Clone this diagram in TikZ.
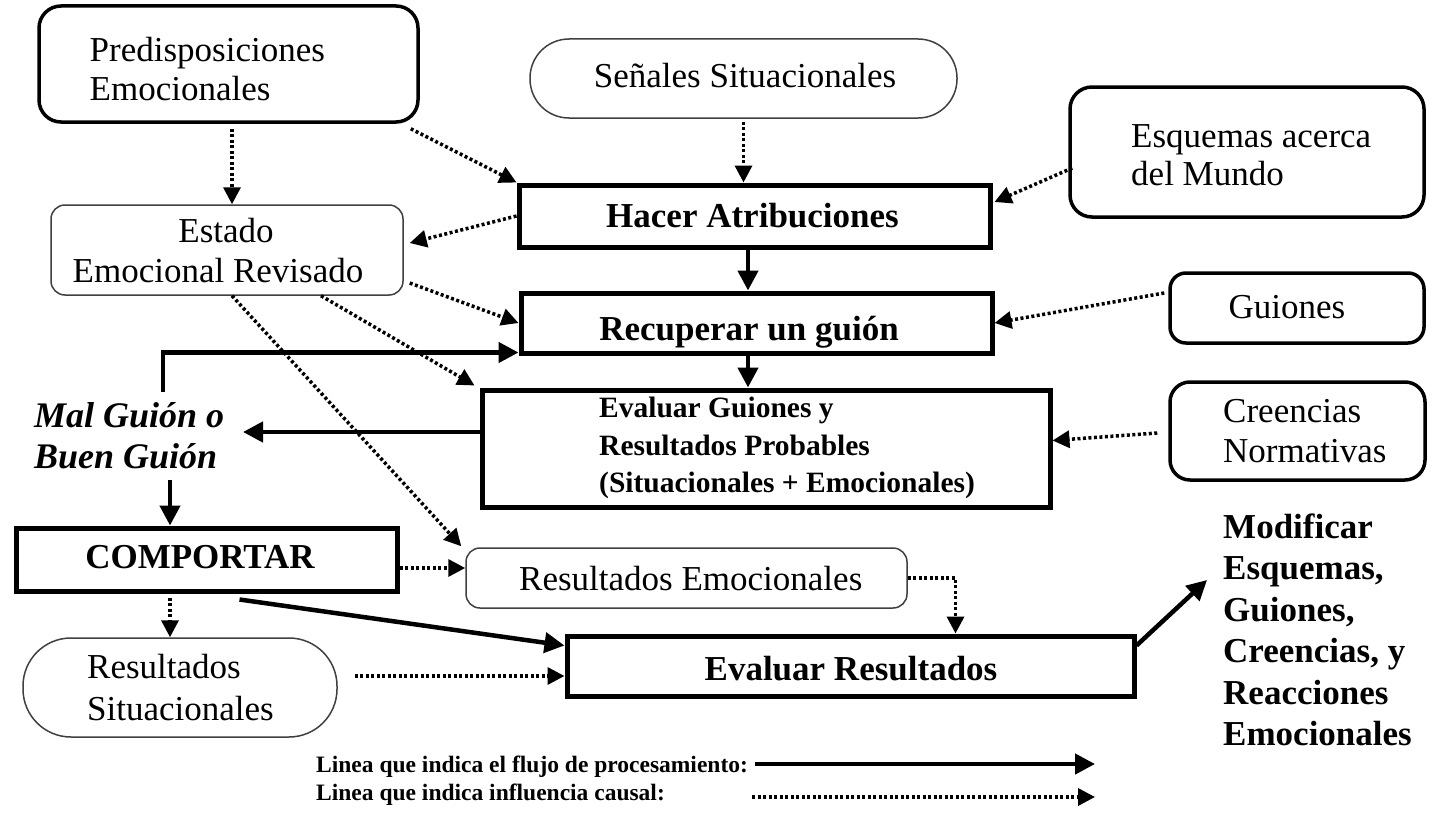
\documentclass[tikz,border=0pt]{standalone}
\usepackage{fontspec}
\setmainfont{Liberation Serif}
\usetikzlibrary{arrows.meta,calc}
\begin{document}
\begin{tikzpicture}[x=1pt,y=-1pt,
  thickbox/.style={draw, line width=5pt, inner sep=0pt},
  rbox/.style={draw, line width=3.5pt, rounded corners=22pt, inner sep=0pt},
  thinbox/.style={draw=black!75, line width=1.5pt, rounded corners=14pt, inner sep=0pt},
  pill/.style={draw=black!75, line width=1.5pt, inner sep=0pt},
  txt/.style={inner sep=0pt, font=\fontsize{35}{40}\selectfont},
  btxt/.style={inner sep=0pt, font=\fontsize{35}{40}\selectfont\bfseries},
  gtxt/.style={inner sep=0pt, font=\fontsize{29.5}{36}\selectfont\bfseries},
  itxt/.style={inner sep=0pt, font=\fontsize{36}{40}\selectfont\bfseries\itshape},
  ltxt/.style={inner sep=0pt, font=\fontsize{23.5}{26}\selectfont\bfseries},
  flow/.style={line width=4.5pt, -{Triangle[length=20pt,width=20pt]}},
  causal/.style={line width=3.5pt, dash pattern=on 3pt off 2.5pt, -{Triangle[length=17pt,width=17pt]}},
]
\fill[white] (0,0) rectangle (1437,816);
\useasboundingbox (0,0) rectangle (1437,816);

% boxes
\node[rbox, minimum width=379pt, minimum height=116pt] (pred) at (228.5,64) {};
\node[pill, rounded corners=39pt, minimum width=427pt, minimum height=79pt] (senal) at (743.5,78.5) {};
\node[rbox, minimum width=354pt, minimum height=130pt] (esq) at (1247,152) {};
\node[thickbox, minimum width=471pt, minimum height=62pt] (hacer) at (754.5,216) {};
\node[thinbox, minimum width=352pt, minimum height=90pt] (estado) at (227,250) {};
\node[thickbox, minimum width=471pt, minimum height=60pt] (recup) at (756.5,323) {};
\node[rbox, rounded corners=16pt, minimum width=254pt, minimum height=70pt] (guion) at (1297,308) {};
\node[thickbox, minimum width=568pt, minimum height=117pt] (evalg) at (766,448.5) {};
\node[rbox, rounded corners=20pt, minimum width=255pt, minimum height=98pt] (creen) at (1297.5,431) {};
\node[thickbox, minimum width=381pt, minimum height=63pt] (comp) at (206.5,559.5) {};
\node[thinbox, minimum width=441pt, minimum height=60pt] (resemo) at (686.5,578) {};
\node[pill, rounded corners=48pt, minimum width=314pt, minimum height=99pt] (ressit) at (180,687.5) {};
\node[thickbox, minimum width=567pt, minimum height=60pt] (evalr) at (850.5,666) {};

% texts
\node[txt, anchor=base west] (predA) at (89.5,62) {Predisposiciones};
\node[txt, anchor=base west] (predB) at (89.5,100) {Emocionales};
\node[txt, anchor=base] (senalT) at (745,88) {Señales Situacionales};
\node[txt, anchor=base west] (esqA) at (1131,147) {Esquemas acerca};
\node[txt, anchor=base west] (esqB) at (1131,185) {del Mundo};
\node[btxt, anchor=base] (hacerT) at (752.5,227) {Hacer Atribuciones};
\node[txt, anchor=base] (estadoA) at (226,242) {Estado};
\node[txt, anchor=base] (estadoB) at (218,282) {Emocional Revisado};
\node[btxt, anchor=base] (recupT) at (749,340) {Recuperar un guión};
\node[txt, anchor=base] (guionT) at (1287,318) {Guiones};
\node[gtxt, anchor=base west] (evalgA) at (599,417) {Evaluar Guiones y};
\node[gtxt, anchor=base west] (evalgB) at (599,455) {Resultados Probables};
\node[gtxt, anchor=base west] (evalgC) at (599,492) {(Situacionales + Emocionales)};
\node[txt, anchor=base west] (creenA) at (1223,422) {Creencias};
\node[txt, anchor=base west] (creenB) at (1223,462) {Normativas};
\node[itxt, anchor=base west] (malA) at (34,427) {Mal Guión o};
\node[itxt, anchor=base west] (malB2) at (34,468) {Buen Guión};
\node[btxt, anchor=base] (compT) at (200,568) {COMPORTAR};
\node[txt, anchor=base west] (resemoT) at (519,590) {Resultados Emocionales};
\node[txt, anchor=base west] (ressitA) at (87,678) {Resultados};
\node[txt, anchor=base west] (ressitB) at (87,720) {Situacionales};
\node[btxt, anchor=base] (evalrT) at (851,680) {Evaluar Resultados};
\node[btxt, anchor=base west] (modA) at (1223,538) {Modificar};
\node[btxt, anchor=base west] (modB) at (1223,579.5) {Esquemas,};
\node[btxt, anchor=base west] (modC) at (1223,621) {Guiones,};
\node[btxt, anchor=base west] (modD) at (1223,662.5) {Creencias, y};
\node[btxt, anchor=base west] (modE) at (1223,704) {Reacciones};
\node[btxt, anchor=base west] (modF) at (1223,745.5) {Emocionales};
\node[ltxt, anchor=base west] (legA) at (316,772) {Linea que indica el flujo de procesamiento:};
\node[ltxt, anchor=base west] (legB) at (316,800) {Linea que indica influencia causal:};

% free ends
\coordinate (malR) at (243,432);
\coordinate (malT) at (163,392);
\coordinate (malB) at (170,480);
\coordinate (modL) at (1207,580);
\coordinate (legA1) at (755,764);
\coordinate (legA2) at (1095,764);
\coordinate (legB1) at (752,797);
\coordinate (legB2) at (1095,797);
\coordinate (hs) at ($(hacer.south)+(-6.5,0)$);
\coordinate (rs) at ($(recup.south)+(-8.5,0)$);
\coordinate (ps) at ($(pred.south)+(3.5,5)$);
\coordinate (ss) at ($(senal.south)+(0,3)$);
\coordinate (cs) at ($(comp.south)+(-36.5,4)$);

% processing flow
\draw[flow] (hs) -- (hs |- recup.north);
\draw[flow] (rs) -- (rs |- evalg.north);
\draw[flow] (evalg.west |- malR) -- (malR);
\draw[flow] (malT) |- ($(recup.south west)+(0,-3)$);
\draw[flow] (malB) -- (malB |- comp.north);
\draw[flow] ($(comp.south)+(33,6)$) -- ($(evalr.north west)+(0,12)$);
\draw[flow] ($(evalr.north east)+(0,12)$) -- (modL);
\draw[flow] (legA1) -- (legA2);

% causal influence
\draw[causal] ($(pred.south east)+(-9,5)$) -- (hacer.north west);
\draw[causal] (ps) -- (ps |- estado.north);
\draw[causal] (ss) -- (ss |- hacer.north);
\draw[causal] ($(esq.west)+(4,16)$) -- ($(hacer.east)+(2,-14)$);
\draw[causal] (hacer.west) -- ($(estado.east)+(6,-7)$);
\draw[causal] ($(estado.east)+(6,33)$) -- (recup.west);
\draw[causal] ($(estado.south)+(94,0)$) -- ($(evalg.north west)+(-5,-2)$);
\draw[causal] ($(estado.south)+(5,0)$) -- ($(resemo.north west)+(-4,-1)$);
\draw[causal] ($(guion.west)+(-4,-15)$) -- (recup.east);
\draw[causal] ($(creen.west)+(-11,2)$) -- ($(evalg.east)+(0,-8)$);
\draw[causal] ($(comp.east)+(0,8.5)$) -- ($(resemo.west)+(0,-10)$);
\draw[causal] (cs) -- (cs |- ressit.north);
\draw[causal] ($(ressit.east)+(17,-11.5)$) -- ($(evalr.west)+(0,10)$);
\draw[causal] (resemo.east) -| ($(evalr.north west)+(391,0)$);
\draw[causal] (legB1) -- (legB2);
\end{tikzpicture}
\end{document}
